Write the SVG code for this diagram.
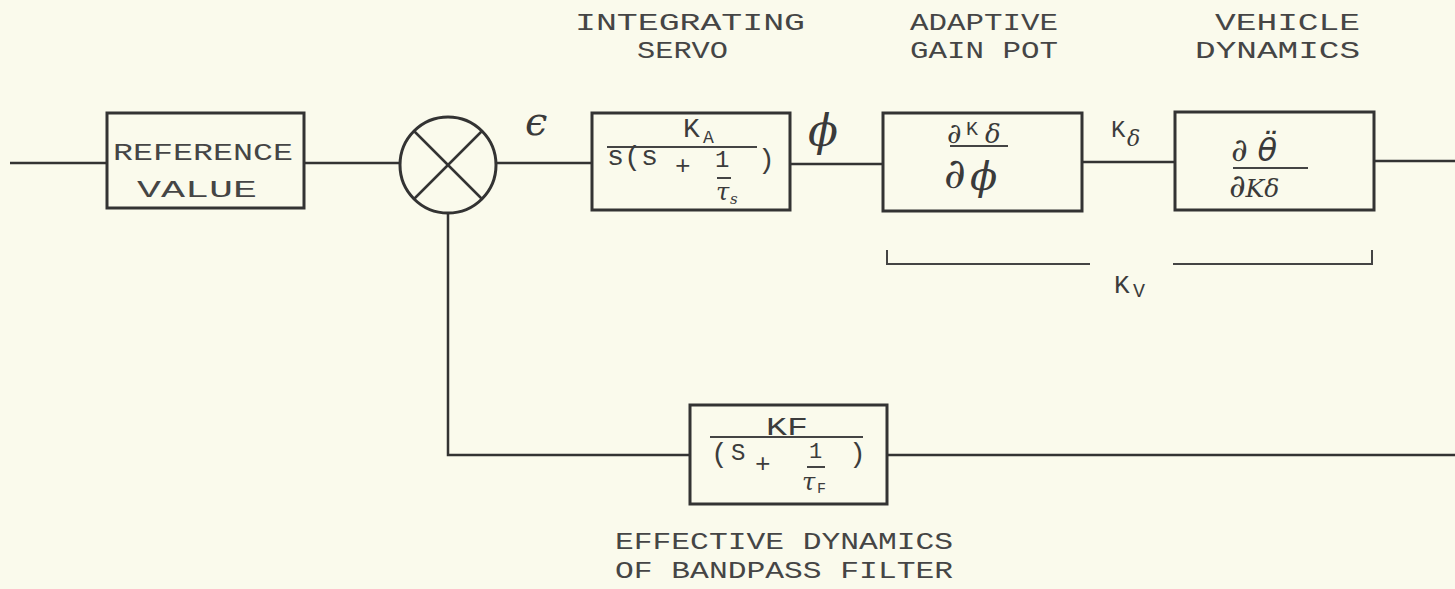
<svg xmlns="http://www.w3.org/2000/svg" width="1455" height="589" viewBox="0 0 1455 589">
<style>
.bg{fill:#fafaec}
.box{fill:none;stroke:#333;stroke-width:3}
.ln{fill:none;stroke:#333;stroke-width:2.5}
.thin{fill:none;stroke:#444;stroke-width:2}
.tw{font-family:"Liberation Mono","DejaVu Sans Mono",monospace;fill:#3c3c3c}
.lab{font-family:"Liberation Mono","DejaVu Sans Mono",monospace;font-size:24px;fill:#454545}
.hw{font-family:"DejaVu Serif","Liberation Serif",serif;font-style:italic;fill:#3a3a3a}
</style>
<rect class="bg" x="0" y="0" width="1455" height="589"/>

<g id="connectors">
<line class="ln" x1="10" y1="163" x2="107" y2="163"/>
<line class="ln" x1="304" y1="163" x2="400" y2="163"/>
<line class="ln" x1="496" y1="163" x2="592" y2="163"/>
<line class="ln" x1="790" y1="164" x2="883" y2="164"/>
<line class="ln" x1="1082" y1="162" x2="1175" y2="162"/>
<line class="ln" x1="1374" y1="161" x2="1455" y2="161"/>
<polyline class="ln" points="448,213 448,455 690,455"/>
<line class="ln" x1="887" y1="455" x2="1455" y2="455"/>
</g>

<g id="labels-top">
<text class="lab" x="575" y="30" textLength="230" lengthAdjust="spacingAndGlyphs">INTEGRATING</text>
<text class="lab" x="637" y="58" textLength="91" lengthAdjust="spacingAndGlyphs">SERVO</text>
<text class="lab" x="910" y="30" textLength="148" lengthAdjust="spacingAndGlyphs">ADAPTIVE</text>
<text class="lab" x="910" y="58" textLength="148" lengthAdjust="spacingAndGlyphs">GAIN POT</text>
<text class="lab" x="1215" y="30" textLength="145" lengthAdjust="spacingAndGlyphs">VEHICLE</text>
<text class="lab" x="1195" y="58" textLength="165" lengthAdjust="spacingAndGlyphs">DYNAMICS</text>
</g>

<g id="reference">
<rect class="box" x="107" y="113" width="197" height="95"/>
<text class="lab" x="113" y="160" font-size="26" textLength="180" lengthAdjust="spacingAndGlyphs">REFERENCE</text>
<text class="lab" x="137" y="197" font-size="26" textLength="120" lengthAdjust="spacingAndGlyphs">VALUE</text>
</g>

<g id="summer">
<circle class="box" cx="448" cy="165" r="48"/>
<line class="ln" x1="414" y1="131" x2="482" y2="199"/>
<line class="ln" x1="482" y1="131" x2="414" y2="199"/>
</g>

<g id="epsilon">
<text class="hw" x="525" y="135" font-size="40" font-style="normal">ϵ</text>
</g>

<g id="servo">
<rect class="box" x="592" y="113" width="198" height="97"/>
<text class="tw" x="683" y="137" font-size="28">K</text>
<text class="tw" x="703" y="143" font-size="18">A</text>
<line class="thin" x1="607" y1="147" x2="757" y2="147"/>
<text class="tw" x="607" y="165" font-size="28" textLength="51" lengthAdjust="spacingAndGlyphs">s(s</text>
<text class="tw" x="675" y="174" font-size="26">+</text>
<text class="tw" x="715" y="167" font-size="24">1</text>
<line class="thin" x1="717" y1="178" x2="731" y2="178"/>
<text class="hw" x="716" y="200" font-size="24">τ</text>
<text class="hw" x="730" y="204" font-size="15">s</text>
<text class="tw" x="758" y="168" font-size="28">)</text>
</g>

<g id="phi">
<text class="hw" x="808" y="146" font-size="44">ϕ</text>
</g>

<g id="gainpot">
<rect class="box" x="883" y="113" width="199" height="98"/>
<text class="hw" x="947" y="143" font-size="28">∂</text>
<text class="tw" x="966" y="135" font-size="20">K</text>
<text class="hw" x="985" y="143" font-size="26">δ</text>
<line class="thin" x1="950" y1="146" x2="1008" y2="146"/>
<text class="hw" x="944" y="188" font-size="42">∂</text>
<text class="hw" x="970" y="190" font-size="40">ϕ</text>
</g>

<g id="kdelta">
<text class="tw" x="1111" y="137" font-size="24">K</text>
<text class="hw" x="1127" y="146" font-size="22">δ</text>
</g>

<g id="vehicle">
<rect class="box" x="1175" y="112" width="199" height="98"/>
<text class="hw" x="1231" y="161" font-size="32">∂<tspan dx="10" font-family="DejaVu Sans">θ̈</tspan></text>
<line class="thin" x1="1233" y1="168" x2="1308" y2="168"/>
<text class="hw" x="1229" y="197" font-size="32">∂<tspan font-size="25">Kδ</tspan></text>
</g>

<g id="kv">
<polyline class="thin" points="887,250 887,264 1090,264"/>
<polyline class="thin" points="1173,264 1372,264 1372,250"/>
<text class="tw" x="1114" y="293" font-size="26">K</text>
<text class="tw" x="1133" y="297" font-size="20">V</text>
</g>

<g id="filter">
<rect class="box" x="690" y="405" width="197" height="99"/>
<text class="tw" x="766" y="435" font-size="26" textLength="42" lengthAdjust="spacingAndGlyphs">KF</text>
<line class="thin" x1="710" y1="437" x2="863" y2="437"/>
<text class="tw" x="711" y="462" font-size="28">(</text>
<text class="tw" x="731" y="460" font-size="24">S</text>
<text class="tw" x="755" y="472" font-size="26">+</text>
<text class="tw" x="809" y="458" font-size="22">1</text>
<line class="thin" x1="807" y1="467" x2="825" y2="467"/>
<text class="hw" x="802" y="490" font-size="24">τ</text>
<text class="tw" x="817" y="493" font-size="15">F</text>
<text class="tw" x="849" y="462" font-size="28">)</text>
</g>

<g id="labels-bottom">
<text class="lab" x="615" y="549" font-size="25" textLength="338" lengthAdjust="spacingAndGlyphs">EFFECTIVE DYNAMICS</text>
<text class="lab" x="615" y="578" font-size="25" textLength="338" lengthAdjust="spacingAndGlyphs">OF BANDPASS FILTER</text>
</g>
</svg>
